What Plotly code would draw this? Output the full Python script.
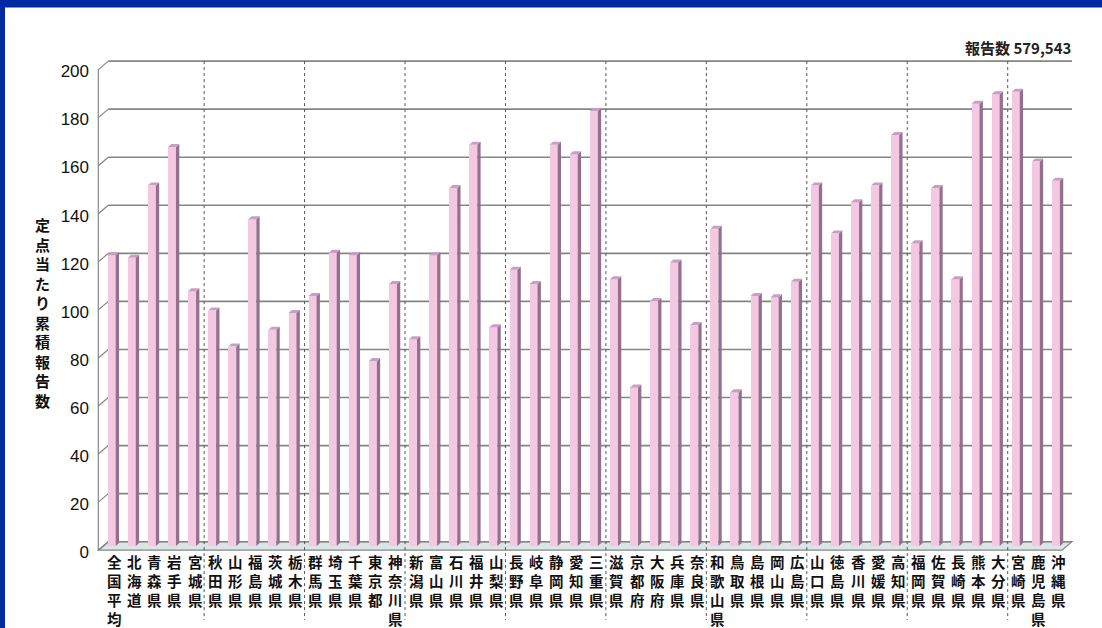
import plotly.graph_objects as go

# --- data -----------------------------------------------------------------
categories = [
    "全国平均", "北海道", "青森県", "岩手県", "宮城県",
    "秋田県", "山形県", "福島県", "茨城県", "栃木県",
    "群馬県", "埼玉県", "千葉県", "東京都", "神奈川県",
    "新潟県", "富山県", "石川県", "福井県", "山梨県",
    "長野県", "岐阜県", "静岡県", "愛知県", "三重県",
    "滋賀県", "京都府", "大阪府", "兵庫県", "奈良県",
    "和歌山県", "鳥取県", "島根県", "岡山県", "広島県",
    "山口県", "徳島県", "香川県", "愛媛県", "高知県",
    "福岡県", "佐賀県", "長崎県", "熊本県", "大分県",
    "宮崎県", "鹿児島県", "沖縄県",
]
values = [
    121, 120, 150, 166, 106,
    98, 83, 136, 90, 97,
    104, 122, 121, 77, 109,
    86, 121, 149, 167, 91,
    115, 109, 167, 163, 181,
    111, 66, 102, 118, 92,
    132, 64, 104, 103.5, 110,
    150, 130, 143, 150, 171,
    126, 149, 111, 184, 188,
    189, 160, 152,
]
y_ticks = [0, 20, 40, 60, 80, 100, 120, 140, 160, 180, 200]
group_size = 5
y_title = "定点当たり累積報告数"
total_label = "報告数 579,543"

# --- geometry (pixels) ----------------------------------------------------
FIG_W, FIG_H = 1102, 628
ML, MR, MT, MB = 97, 22, 55, 3
PW, PH = FIG_W - ML - MR, FIG_H - MT - MB
X0_PX, DX_PX = 111.7, 20.09          # first bar centre, bar spacing
Y0_PX, DY_PX = 546.0, 2.403          # value 0 baseline, px per unit

x_range = [(ML - X0_PX) / DX_PX, (FIG_W - MR - X0_PX) / DX_PX]
y_range = [(Y0_PX - (FIG_H - MB)) / DY_PX, (Y0_PX - MT) / DY_PX]


def px_x(px):
    return (px - ML) / PW


def px_y(py):
    return (FIG_H - MB - py) / PH


def ux(px):
    return px / DX_PX


def uy(px):
    return px / DY_PX


n = len(categories)
xs = list(range(n))

# 3D offsets in data units
back_dx, back_dy = ux(5.0), uy(4.3)
front_dx, front_dy = ux(-5.0), uy(-4.2)
front_left = ux(98.3 - X0_PX)
back_left = front_left + back_dx - front_dx
back_right = ux(1072 - X0_PX)
front_right = back_right - (back_dx - front_dx)

half_w = ux(8.0) / 2
bar_dx, bar_dy = ux(3.3), uy(3.0)

PINK = "#f5c8e2"
SIDE = "#94708f"
TOP = "#c99ec3"
GRID = "#858585"
BLUE = "#0029a3"

fig = go.Figure()

# front faces of the bars
fig.add_trace(go.Bar(
    x=xs, y=values, width=2 * half_w,
    marker=dict(color=PINK, line=dict(width=0)),
    hoverinfo="x+y", showlegend=False,
))

# right-hand side faces
sx, sy = [], []
for i, v in zip(xs, values):
    xr = i + half_w
    sx += [xr, xr, xr + bar_dx, xr + bar_dx, xr, None]
    sy += [0, v, v + bar_dy, bar_dy, 0, None]
fig.add_trace(go.Scatter(
    x=sx, y=sy, mode="lines", fill="toself", fillcolor=SIDE,
    line=dict(width=0, color=SIDE), hoverinfo="skip", showlegend=False,
))

# top caps
tx, ty = [], []
for i, v in zip(xs, values):
    xl, xr = i - half_w, i + half_w
    tx += [xl, xr, xr + bar_dx, xl + bar_dx, xl, None]
    ty += [v, v, v + bar_dy, v + bar_dy, v, None]
fig.add_trace(go.Scatter(
    x=tx, y=ty, mode="lines", fill="toself", fillcolor=TOP,
    line=dict(width=0, color=TOP), hoverinfo="skip", showlegend=False,
))

shapes = []
# blue frame (top and left edges) around the white panel
shapes.append(dict(type="rect", xref="paper", yref="paper", layer="below",
                   x0=px_x(5), x1=px_x(FIG_W + 2), y0=px_y(FIG_H + 2), y1=px_y(7.5),
                   fillcolor="white", line=dict(width=0)))

# floor
shapes.append(dict(
    type="path", xref="x", yref="y", layer="below",
    path=(f"M{front_left},{front_dy} L{front_right},{front_dy} "
          f"L{back_right},{back_dy} L{back_left},{back_dy} Z"),
    fillcolor="#dbe5e5", line=dict(color=GRID, width=1.2)))

# back-wall gridlines with their left-wall diagonals
for t in y_ticks:
    shapes.append(dict(type="line", xref="x", yref="y", layer="below",
                       x0=back_left, x1=back_right, y0=t + back_dy, y1=t + back_dy,
                       line=dict(color=GRID, width=1.6)))
    shapes.append(dict(type="line", xref="x", yref="y", layer="below",
                       x0=front_left, x1=back_left, y0=t + front_dy, y1=t + back_dy,
                       line=dict(color=GRID, width=1.2)))
# front vertical axis
shapes.append(dict(type="line", xref="x", yref="y", layer="below",
                   x0=front_left, x1=front_left, y0=front_dy, y1=y_ticks[-1] + front_dy,
                   line=dict(color=GRID, width=1.2)))

# dashed region separators
for b in range(group_size, n, group_size):
    xb = b - 0.5 + 0.1
    shapes.append(dict(type="line", xref="x", yref="y", layer="below",
                       x0=xb, x1=xb, y0=y_ticks[-1] + back_dy, y1=uy(Y0_PX - 620),
                       line=dict(color="#555555", width=1, dash="3px,3px")))

annotations = []
# vertical category labels, stacked one character per line
LABEL_SIZE = 14.5
LABEL_STEP = LABEL_SIZE * 1.3
for i, name in enumerate(categories):
    annotations.append(dict(
        xref="x", yref="paper", x=i + ux(3),
        y=px_y(561.7 + (len(name) - 1) * LABEL_STEP / 2),
        text="<br>".join(name), showarrow=False,
        xanchor="center", yanchor="middle", align="center", borderpad=0,
        font=dict(family="Noto Sans CJK JP", size=LABEL_SIZE,
                  color="#111111", weight="bold")))

# vertical axis title, centred on the value range
TITLE_SIZE = 15
annotations.append(dict(
    xref="paper", yref="paper", x=px_x(42.5), y=px_y(312.4),
    text="<br>".join(y_title), showarrow=False,
    xanchor="center", yanchor="middle", align="center", borderpad=0,
    font=dict(family="Noto Sans CJK JP", size=TITLE_SIZE, color="#111111", weight="bold")))

# total count
annotations.append(dict(
    xref="paper", yref="paper", x=px_x(1073), y=px_y(47.5),
    text=total_label, showarrow=False, xanchor="right", yanchor="middle",
    font=dict(family="Noto Sans CJK JP", size=15, color="#222222", weight="bold")))

fig.update_layout(
    width=FIG_W, height=FIG_H,
    margin=dict(l=ML, r=MR, t=MT, b=MB, pad=0),
    paper_bgcolor=BLUE, plot_bgcolor="rgba(0,0,0,0)",
    bargap=0, showlegend=False,
    shapes=shapes, annotations=annotations,
    xaxis=dict(range=x_range, visible=False, fixedrange=True),
    yaxis=dict(range=y_range, tickvals=y_ticks, ticktext=[str(t) for t in y_ticks],
               showgrid=False, zeroline=False, showline=False, ticks="",
               ticklabelshift=6, ticklabelstandoff=7,
               tickfont=dict(family="Liberation Sans", size=17, color="#111111"),
               fixedrange=True),
)

fig.write_html("out.html")
